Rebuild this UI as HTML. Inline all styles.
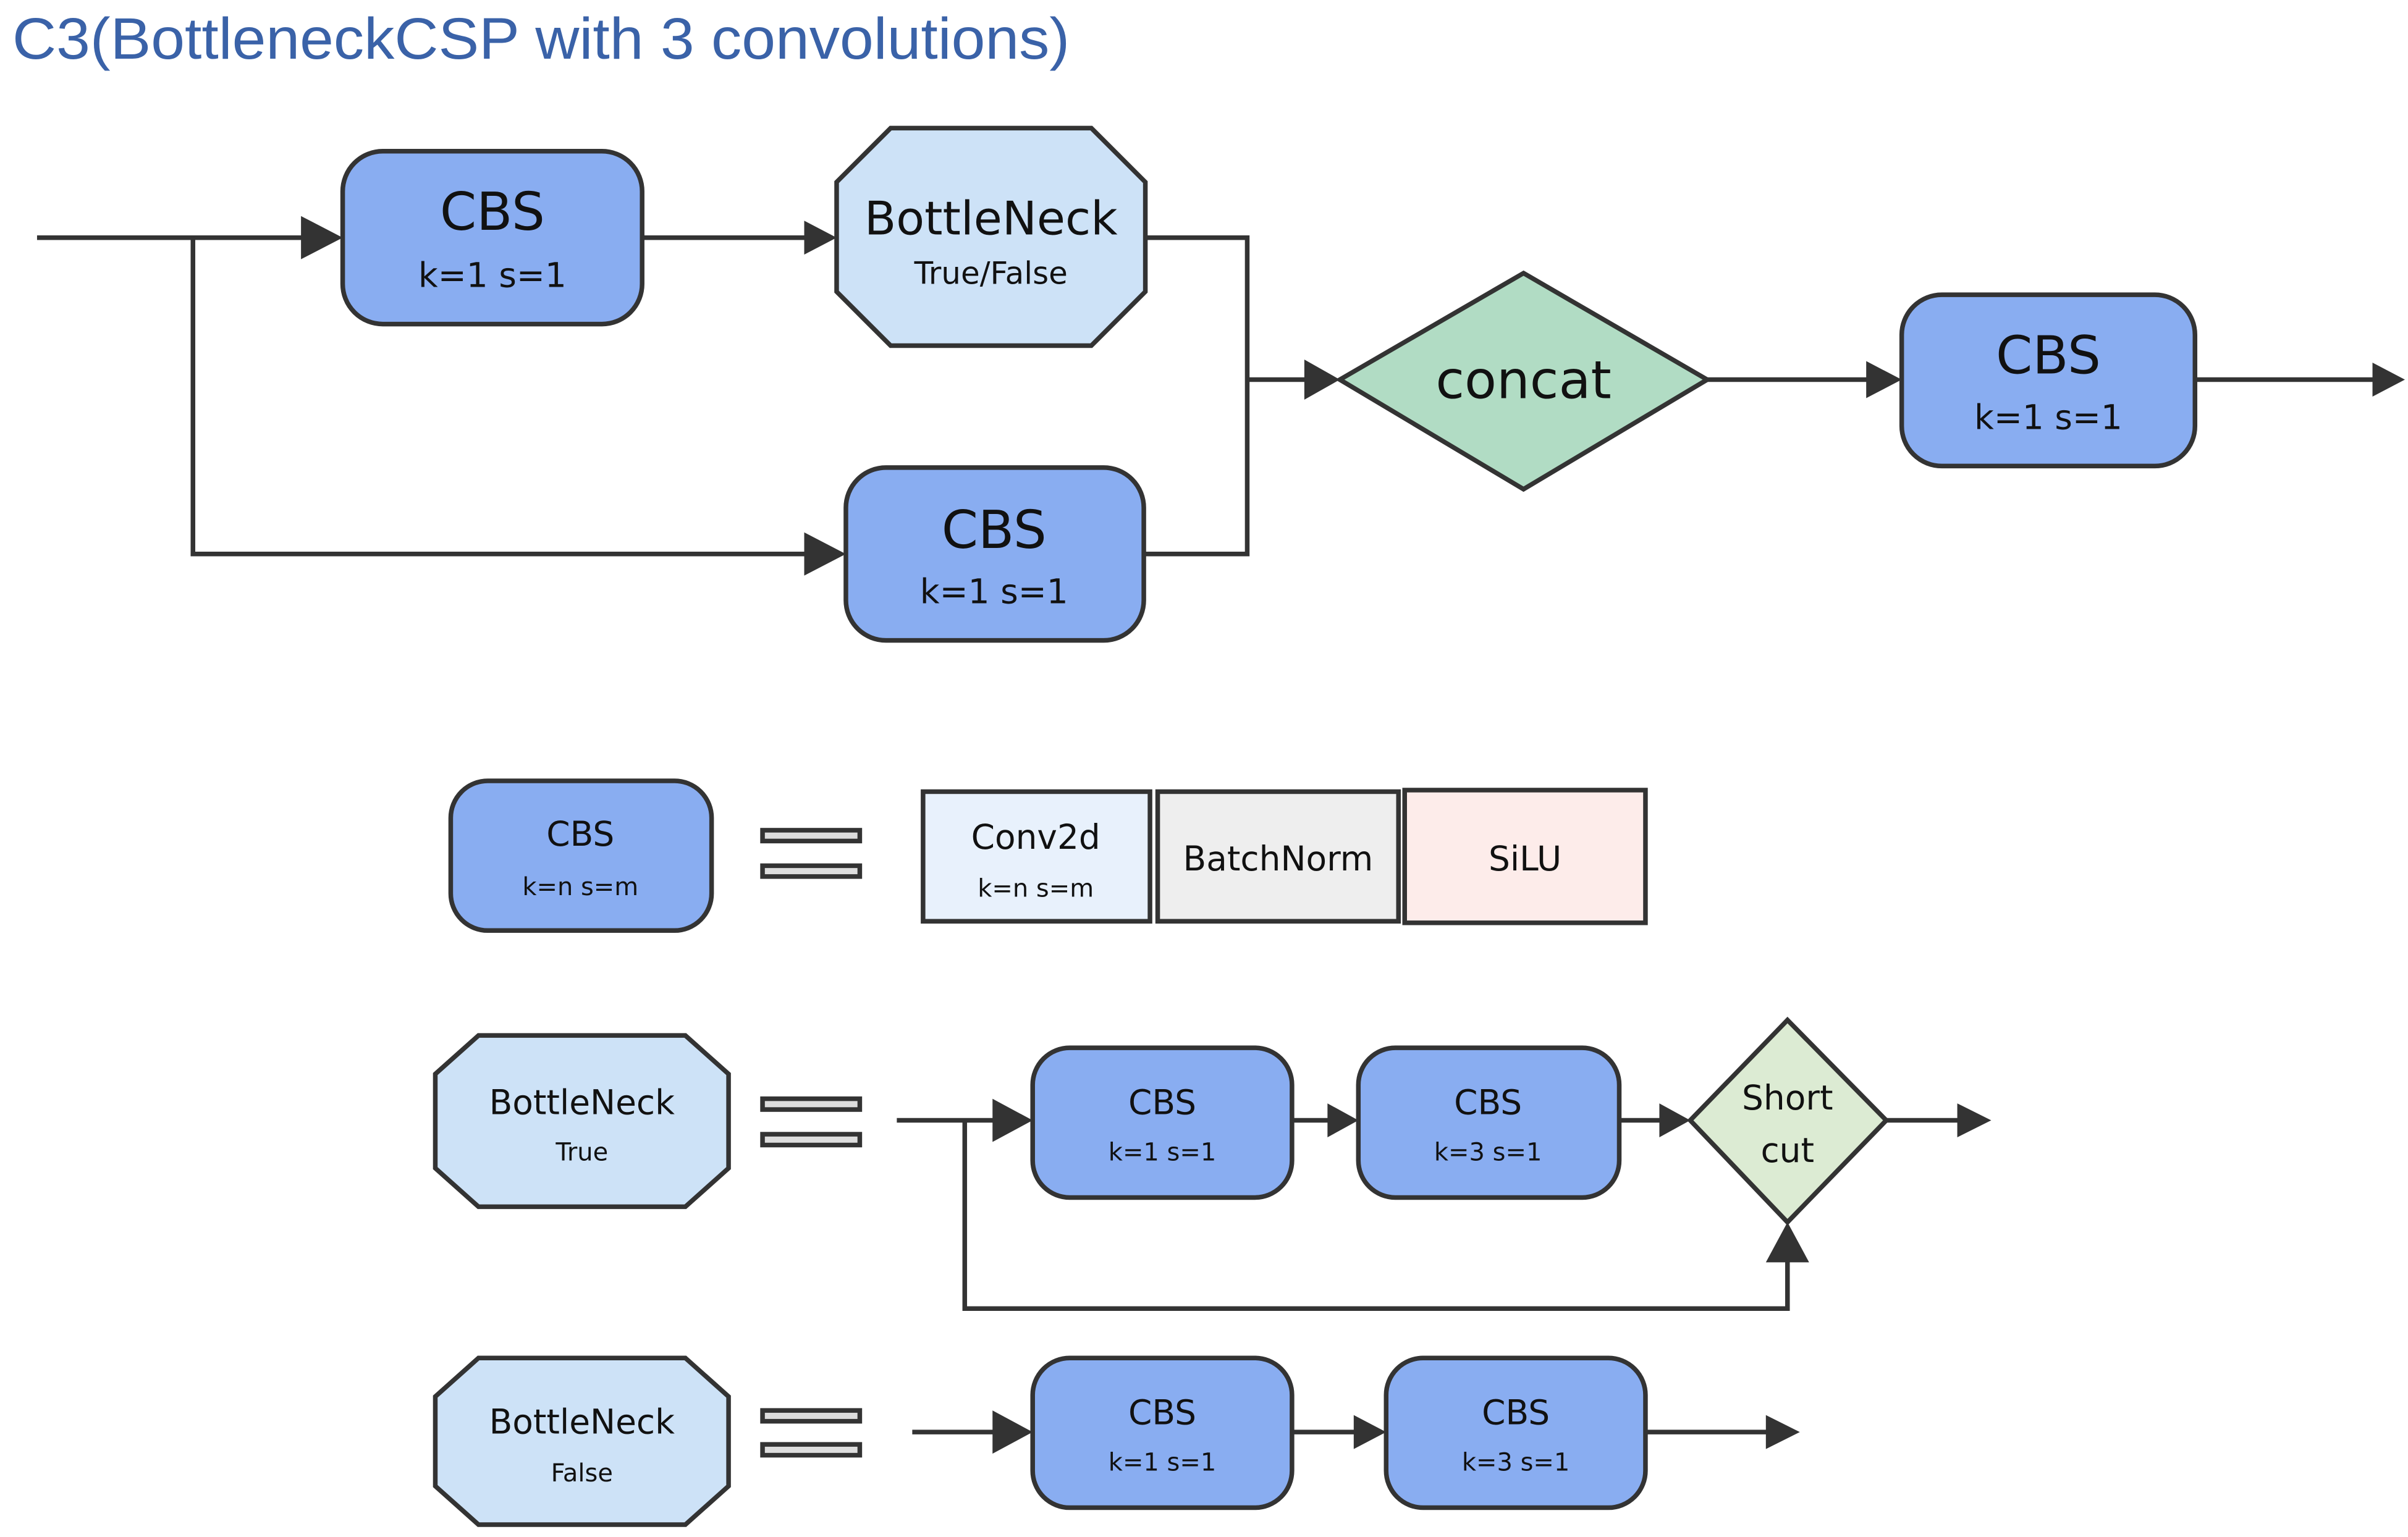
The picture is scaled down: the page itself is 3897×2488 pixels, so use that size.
<!DOCTYPE html>
<html><head><meta charset="utf-8"><style>
html,body{margin:0;padding:0;background:#fff;}
svg{display:block;}
text{font-family:"DejaVu Sans","Liberation Sans",sans-serif;fill:#111;text-anchor:middle;}
</style></head><body>
<svg width="3897" height="2488" viewBox="0 0 1560 996" preserveAspectRatio="none" xmlns="http://www.w3.org/2000/svg">
<text x="8" y="38" textLength="685" lengthAdjust="spacingAndGlyphs" style="font-family:'Liberation Sans',sans-serif;text-anchor:start;fill:#3a62a8;font-size:38px">C3(BottleneckCSP with 3 convolutions)</text>
<g stroke="#333" stroke-width="3" fill="none">
<line x1="24" y1="154" x2="196" y2="154"/>
<path d="M195,140 L222,154 L195,168 Z" fill="#333" stroke="none"/>
<polyline points="125,154 125,359 522,359"/>
<path d="M521,345 L548,359 L521,373 Z" fill="#333" stroke="none"/>
<line x1="416" y1="154" x2="522" y2="154"/>
<path d="M521,143 L542,154 L521,165 Z" fill="#333" stroke="none"/>
<polyline points="742,154 808,154 808,359 741,359"/>
<line x1="808" y1="246" x2="846" y2="246"/>
<path d="M845,233 L868,246 L845,259 Z" fill="#333" stroke="none"/>
<line x1="1106" y1="246" x2="1210" y2="246"/>
<path d="M1209,234 L1232,246 L1209,258 Z" fill="#333" stroke="none"/>
<line x1="1422" y1="246" x2="1538" y2="246"/>
<path d="M1537,235 L1558,246 L1537,257 Z" fill="#333" stroke="none"/>
<line x1="581" y1="726" x2="645" y2="726"/>
<path d="M643,712 L669,726 L643,740 Z" fill="#333" stroke="none"/>
<polyline points="625,726 625,848 1158,848 1158,816"/>
<path d="M1144,818 L1158,792 L1172,818 Z" fill="#333" stroke="none"/>
<line x1="837" y1="726" x2="862" y2="726"/>
<path d="M860,715 L880,726 L860,737 Z" fill="#333" stroke="none"/>
<line x1="1049" y1="726" x2="1077" y2="726"/>
<path d="M1075,715 L1095,726 L1075,737 Z" fill="#333" stroke="none"/>
<line x1="1222" y1="726" x2="1270" y2="726"/>
<path d="M1268,715 L1290,726 L1268,737 Z" fill="#333" stroke="none"/>
<line x1="591" y1="928" x2="645" y2="928"/>
<path d="M643,914 L669,928 L643,942 Z" fill="#333" stroke="none"/>
<line x1="837" y1="928" x2="880" y2="928"/>
<path d="M877,917 L898,928 L877,939 Z" fill="#333" stroke="none"/>
<line x1="1066" y1="928" x2="1146" y2="928"/>
<path d="M1144,917 L1166,928 L1144,939 Z" fill="#333" stroke="none"/>
</g>
<g stroke="#333" stroke-width="3">
<rect x="222" y="98" width="194" height="112" rx="26" fill="#89adf1"/>
<polygon points="577,83 707,83 742,118 742,189 707,224 577,224 542,189 542,118" fill="#cde2f7"/>
<rect x="548" y="303" width="193" height="112" rx="26" fill="#89adf1"/>
<polygon points="987,177 1106,246 987,317 868,246" fill="#b1dcc4"/>
<rect x="1232" y="191" width="190" height="111" rx="26" fill="#89adf1"/>
<rect x="292" y="506" width="169" height="97" rx="24" fill="#89adf1"/>
<rect x="598" y="513" width="147" height="84" fill="#e8f1fc"/>
<rect x="750" y="513" width="156" height="84" fill="#eeeeee"/>
<rect x="910" y="512" width="156" height="86" fill="#fdecea"/>
<polygon points="310,671 444,671 472,696 472,757 444,782 310,782 282,757 282,696" fill="#cde2f7"/>
<rect x="669" y="679" width="168" height="97" rx="24" fill="#89adf1"/>
<rect x="880" y="679" width="169" height="97" rx="24" fill="#89adf1"/>
<polygon points="1158,661 1222,726 1158,792 1095,726" fill="#dcebd3"/>
<polygon points="310,880 444,880 472,905 472,963 444,988 310,988 282,963 282,905" fill="#cde2f7"/>
<rect x="669" y="880" width="168" height="97" rx="24" fill="#89adf1"/>
<rect x="898" y="880" width="168" height="97" rx="24" fill="#89adf1"/>
<g fill="#ddd" stroke-width="3">
<rect x="494" y="538" width="63" height="7"/><rect x="494" y="561" width="63" height="7"/>
<rect x="494" y="712" width="63" height="7"/><rect x="494" y="735" width="63" height="7"/>
<rect x="494" y="914" width="63" height="7"/><rect x="494" y="936" width="63" height="7"/>
</g>
</g>
<text x="319" y="149" font-size="34">CBS</text>
<text x="319" y="186" font-size="22">k=1 s=1</text>
<text x="642" y="152" font-size="30">BottleNeck</text>
<text x="642" y="184" font-size="20">True/False</text>
<text x="644" y="355" font-size="34">CBS</text>
<text x="644" y="391" font-size="22">k=1 s=1</text>
<text x="987" y="258" font-size="34">concat</text>
<text x="1327" y="242" font-size="34">CBS</text>
<text x="1327" y="278" font-size="22">k=1 s=1</text>
<text x="376" y="548" font-size="22">CBS</text>
<text x="376" y="580" font-size="16">k=n s=m</text>
<text x="671" y="550" font-size="22">Conv2d</text>
<text x="671" y="581" font-size="16">k=n s=m</text>
<text x="828" y="564" font-size="22">BatchNorm</text>
<text x="988" y="564" font-size="22">SiLU</text>
<text x="377" y="722" font-size="22">BottleNeck</text>
<text x="377" y="752" font-size="16">True</text>
<text x="753" y="722" font-size="22">CBS</text>
<text x="753" y="752" font-size="16">k=1 s=1</text>
<text x="964" y="722" font-size="22">CBS</text>
<text x="964" y="752" font-size="16">k=3 s=1</text>
<text x="1158" y="719" font-size="22">Short</text>
<text x="1158" y="753" font-size="22">cut</text>
<text x="377" y="929" font-size="22">BottleNeck</text>
<text x="377" y="960" font-size="16">False</text>
<text x="753" y="923" font-size="22">CBS</text>
<text x="753" y="953" font-size="16">k=1 s=1</text>
<text x="982" y="923" font-size="22">CBS</text>
<text x="982" y="953" font-size="16">k=3 s=1</text>
</svg>
</body></html>
